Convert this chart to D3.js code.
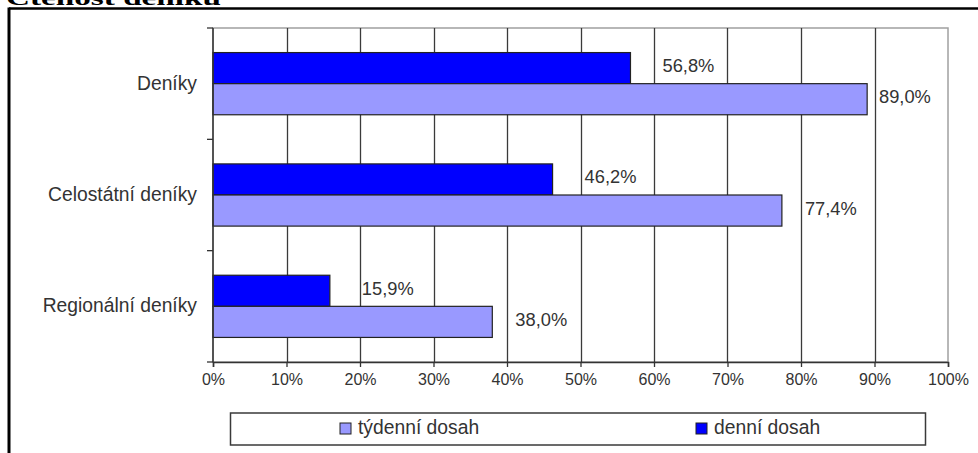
<!DOCTYPE html>
<html><head><meta charset="utf-8">
<script src="https://cdn.jsdelivr.net/npm/d3@7"></script>
<style>
html,body{margin:0;padding:0;background:#fff;}
svg{display:block;}
text{font-family:"Liberation Sans",Arial,sans-serif;fill:#222;}
</style></head>
<body>
<svg id="chart" width="978" height="453"></svg>
<script>
const title = "Čtenost deníků";
const categories = ["Deníky", "Celostátní deníky", "Regionální deníky"];
const seriesNames = ["denní dosah", "týdenní dosah"];
const denniDosah = [56.8, 46.2, 15.9];
const tydenniDosah = [89.0, 77.4, 38.0];
const xTicks = [0, 10, 20, 30, 40, 50, 60, 70, 80, 90, 100];
const legendOrder = ["týdenní dosah", "denní dosah"];
const colors = {"denní dosah": "#0000ff", "týdenní dosah": "#9999ff"};

const svg = d3.select("#chart");
const L = 213, R = 948, T = 28, B = 362;

// outer frame + title
svg.append("line").attr("x1", 9).attr("x2", 978).attr("y1", 8.5).attr("y2", 8.5)
  .attr("stroke", "#000").attr("stroke-width", 2.5);
svg.append("line").attr("x1", 9).attr("x2", 9).attr("y1", 7.5).attr("y2", 453)
  .attr("stroke", "#000").attr("stroke-width", 3);
svg.append("text").attr("x", 6).attr("y", 4.5).text(title)
  .attr("textLength", 215).attr("lengthAdjust", "spacingAndGlyphs")
  .style("font-family", "'Liberation Serif','Times New Roman',serif")
  .style("font-weight", "bold").style("font-size", "22px").style("fill", "#000");

const x = d3.scaleLinear().domain([0, 100]).range([L, R]);
const y0 = d3.scaleBand().domain(categories).range([T, B]).padding(0);
const y1 = d3.scaleBand().domain(seriesNames).range([0, y0.bandwidth()])
  .paddingInner(0).paddingOuter(0.79);

// plot border (gray)
svg.append("rect").attr("x", L).attr("y", T).attr("width", R - L).attr("height", B - T)
  .attr("fill", "none").attr("stroke", "#a0a0a0").attr("stroke-width", 1.5);

// gridlines
svg.append("g").selectAll("line").data(xTicks.filter(t => t > 0 && t < 100)).join("line")
  .attr("x1", d => Math.round(x(d)) + 0.5).attr("x2", d => Math.round(x(d)) + 0.5)
  .attr("y1", T).attr("y2", B).attr("stroke", "#3a3a3a").attr("stroke-width", 1.3);

// bars
const rows = categories.map((c, i) => ({cat: c, vals: [
  {s: "denní dosah", v: denniDosah[i]}, {s: "týdenní dosah", v: tydenniDosah[i]}]}));

const g = svg.append("g");
rows.forEach(r => {
  r.vals.forEach(d => {
    const yy = y0(r.cat) + y1(d.s);
    g.append("rect").attr("x", x(0)).attr("y", yy)
      .attr("width", x(d.v) - x(0)).attr("height", y1.bandwidth())
      .attr("fill", colors[d.s]).attr("stroke", "#222").attr("stroke-width", 1.2);
    const fmt = d.v.toFixed(1).replace(".", ",") + "%";
    let lx = d.s === "denní dosah" ? x(d.v) + 32 : Math.min(x(d.v) + 23, R - 69);
    g.append("text").attr("x", lx).attr("y", yy + y1.bandwidth() / 2 + 4)
      .style("font-size", "18.3px").style("fill", "#333").text(fmt);
  });
});

// y axis
const yAxis = svg.append("g").attr("transform", `translate(${L},0)`);
yAxis.append("line").attr("x1", 0).attr("x2", 0).attr("y1", T).attr("y2", B)
  .attr("stroke", "#333").attr("stroke-width", 1.5);
const bounds = categories.map(c => y0(c)).concat([B]);
yAxis.selectAll("line.tk").data(bounds).join("line").attr("class", "tk")
  .attr("x1", -6).attr("x2", 0).attr("y1", d => d).attr("y2", d => d)
  .attr("stroke", "#333").attr("stroke-width", 1.3);
yAxis.selectAll("text").data(categories).join("text")
  .attr("x", -16).attr("y", d => y0(d) + y0.bandwidth() / 2 + 6)
  .attr("text-anchor", "end").style("font-size", "19.3px").style("fill", "#333").text(d => d);

// x axis
const xAxis = d3.axisBottom(x).tickValues(xTicks).tickFormat(d => d + "%").tickSize(5).tickPadding(7);
const xg = svg.append("g").attr("transform", `translate(0,${B})`).call(xAxis);
xg.select(".domain").attr("stroke", "#333").attr("stroke-width", 1.5);
xg.selectAll(".tick line").attr("stroke", "#333").attr("stroke-width", 1.3);
xg.selectAll(".tick text").style("font-size", "16px").style("fill", "#333")
  .style("font-family", "'Liberation Sans',Arial,sans-serif");

// legend
svg.append("rect").attr("x", 230.5).attr("y", 413).attr("width", 695).attr("height", 32)
  .attr("fill", "#fff").attr("stroke", "#3a3a3a").attr("stroke-width", 1.5);
const legX = {"týdenní dosah": 340, "denní dosah": 696};
legendOrder.forEach(s => {
  svg.append("rect").attr("x", legX[s]).attr("y", 423).attr("width", 11).attr("height", 11)
    .attr("fill", colors[s]).attr("stroke", "#222").attr("stroke-width", 1);
  svg.append("text").attr("x", legX[s] + 18).attr("y", 434).style("font-size", "19.3px")
    .style("fill", "#333").text(s);
});
</script>
</body></html>
